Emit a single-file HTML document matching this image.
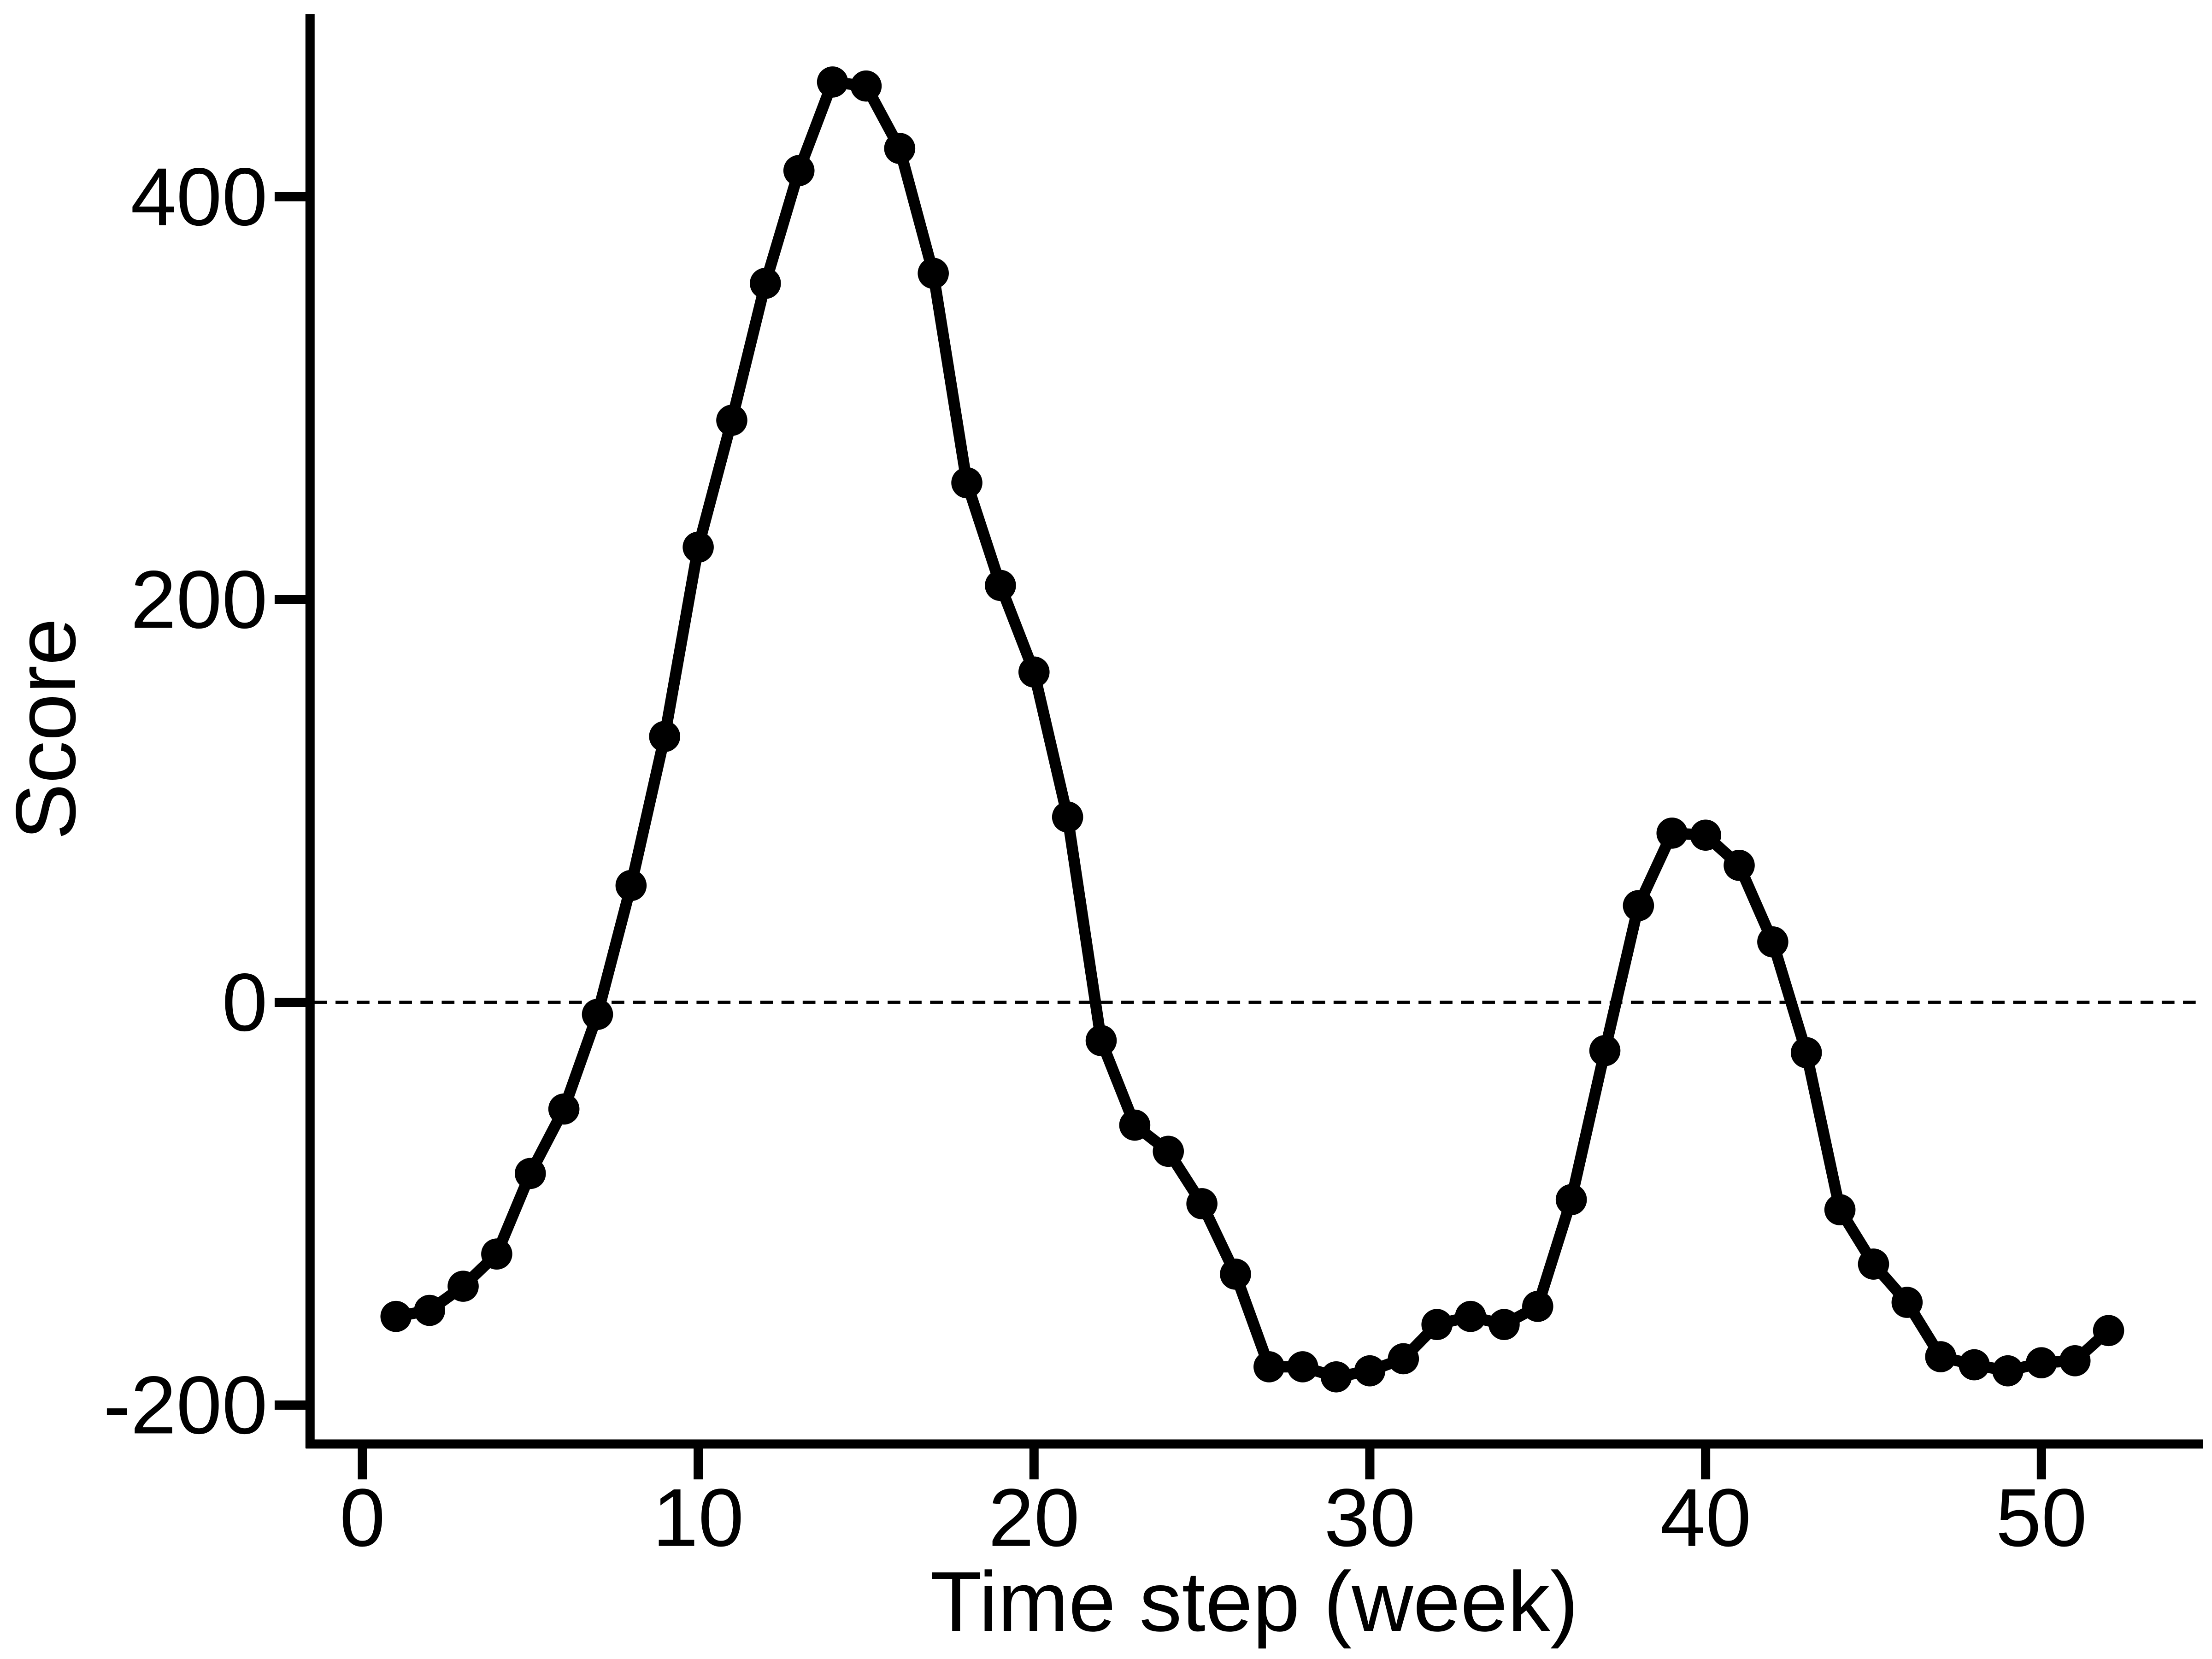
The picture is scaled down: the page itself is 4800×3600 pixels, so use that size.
<!DOCTYPE html>
<html><head><meta charset="utf-8"><style>html,body{margin:0;padding:0;background:#fff}svg{display:block}</style></head>
<body>
<svg id="chart" xmlns="http://www.w3.org/2000/svg" width="4800" height="3600" viewBox="0 0 1562.5 1171.875" font-family="Liberation Sans, sans-serif">
<rect width="1562.5" height="1171.875" fill="#fff"/>
<g id="plot"></g>
</svg>
<script>
const weeks = Array.from({length:52},(_,i)=>i+1);
const scores = [-156,-153,-141,-125,-85,-53,-6,58,132,226,289,357,413,457,455,424,362,258,207,164,92,-19,-61,-74,-100,-135,-181,-181,-186,-183,-177,-160,-156,-160,-151,-98,-24,48,84,83,68,30,-25,-103,-130,-149,-176,-180,-183,-179,-178,-163];
const xTicks = [0,10,20,30,40,50];
const yTicks = [-200,0,200,400];
const NS='http://www.w3.org/2000/svg';
const X = v => 256 + v*23.72;
const Y = v => 708 - v*1.4225;
const g = document.getElementById('plot');
function mk(tag, attrs){const e=document.createElementNS(NS,tag);for(const k in attrs)e.setAttribute(k,attrs[k]);g.appendChild(e);return e;}
let z = mk('line',{x1:222,x2:1555,y1:Y(0),y2:Y(0),stroke:'#000','stroke-width':2.2,'stroke-dasharray':'9,6'});


let ya = mk('line',{x1:219,x2:219,y1:10,y2:1023,stroke:'#000','stroke-width':6.5});


let xa = mk('line',{x1:216,x2:1556,y1:1020,y2:1020,stroke:'#000','stroke-width':6.5});


yTicks.forEach(t=>{
  const tk = mk('line',{x1:194,x2:219,y1:Y(t),y2:Y(t),stroke:'#000','stroke-width':6.5});
  
  
  const tx = mk('text',{x:189,y:Y(t)+20,'text-anchor':'end','font-size':58});
  tx.textContent=t;
  
  
});
xTicks.forEach(t=>{
  const tk = mk('line',{x1:X(t),x2:X(t),y1:1020,y2:1045,stroke:'#000','stroke-width':6.5});
  
  
  const tx = mk('text',{x:X(t),y:1092,'text-anchor':'middle','font-size':58});
  tx.textContent=t;
  
  
});
const xt = mk('text',{x:886,y:1152,'text-anchor':'middle','font-size':60});
xt.textContent='Time step (week)';


const yt = mk('text',{x:0,y:0,'text-anchor':'middle','font-size':60,transform:'translate(53,515) rotate(-90)'});
yt.textContent='Score';


const line = mk('polyline',{points:weeks.map((w,i)=>X(w)+','+Y(scores[i])).join(' '),fill:'none',stroke:'#000','stroke-width':8,'stroke-linejoin':'round'});


weeks.forEach((w,i)=>{
  const c = mk('circle',{cx:X(w),cy:Y(scores[i]),r:11,fill:'#000'});
  
  
});
</script>
</body></html>
